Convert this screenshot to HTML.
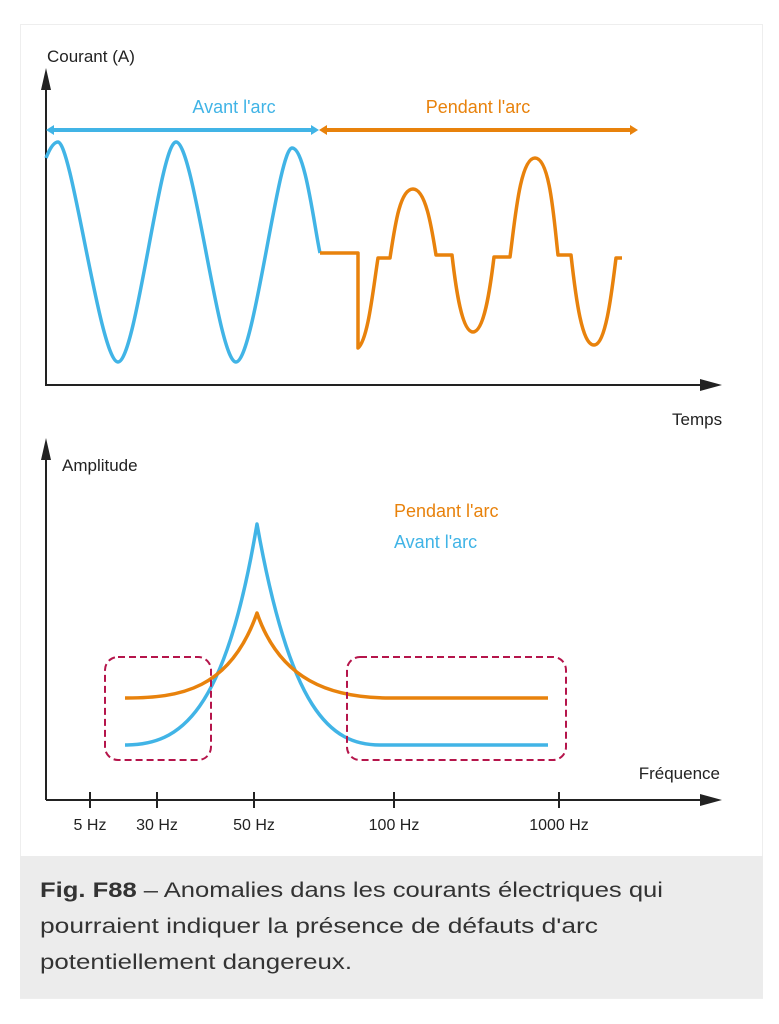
<!DOCTYPE html>
<html><head><meta charset="utf-8"><style>
body{margin:0;background:#fff;}
svg{display:block;font-family:"Liberation Sans",Arial,sans-serif;}
</style></head><body>
<svg width="779" height="1024" viewBox="0 0 779 1024">
<rect x="20.5" y="24.5" width="742" height="974" fill="#fff" stroke="#eee"/>
<rect x="20" y="856" width="743" height="142" fill="#ececec"/>
<text x="40" y="897" font-size="21" fill="#333" textLength="623" lengthAdjust="spacingAndGlyphs"><tspan font-weight="bold">Fig. F88</tspan> – Anomalies dans les courants électriques qui</text>
<text x="40" y="933" font-size="21" fill="#333" textLength="558" lengthAdjust="spacingAndGlyphs">pourraient indiquer la présence de défauts d'arc</text>
<text x="40" y="969" font-size="21" fill="#333" textLength="312" lengthAdjust="spacingAndGlyphs">potentiellement dangereux.</text>

<g stroke="#222" stroke-width="2" fill="none">
<path d="M46 386V80M46 385H710M46 800V450M46 800H710"/>
<path d="M90 792V808M157 792V808M254 792V808M394 792V808M559 792V808"/>
</g>
<g fill="#222">
<path d="M46 68L41 90H51Z"/><path d="M722 385L700 379V391Z"/>
<path d="M46 438L41 460H51Z"/><path d="M722 800L700 794V806Z"/>
</g>
<text x="47" y="62" font-size="17" fill="#222">Courant (A)</text>
<text x="672" y="425" font-size="17" fill="#222">Temps</text>
<text x="62" y="471" font-size="17" fill="#222">Amplitude</text>
<text x="720" y="779" font-size="17" fill="#222" text-anchor="end">Fréquence</text>
<g font-size="16" fill="#222" text-anchor="middle">
<text x="90" y="830">5 Hz</text><text x="157" y="830">30 Hz</text><text x="254" y="830">50 Hz</text><text x="394" y="830">100 Hz</text><text x="559" y="830">1000 Hz</text>
</g>
<text x="234" y="113" font-size="18" fill="#41b4e6" text-anchor="middle">Avant l'arc</text>
<text x="478" y="113" font-size="18" fill="#e8820c" text-anchor="middle">Pendant l'arc</text>
<text x="394" y="517" font-size="18" fill="#e8820c">Pendant l'arc</text>
<text x="394" y="548" font-size="18" fill="#41b4e6">Avant l'arc</text>

<g stroke-width="4" fill="none">
<path d="M50 130H315" stroke="#41b4e6"/>
<path d="M46 130L54 125V135Z M319 130L311 125V135Z" fill="#41b4e6" stroke="none"/>
<path d="M323 130H634" stroke="#e8820c"/>
<path d="M319 130L327 125V135Z M638 130L630 125V135Z" fill="#e8820c" stroke="none"/>
</g>

<g fill="none" stroke-width="3.5" stroke-linejoin="round">
<path stroke="#41b4e6" d="M46 158C50 148 54 142 58 142C72 142 100 362 118 362C136 362 160 142 176 142C194 142 218 362 236 362C254 362 278 148 292 148C305 148 314 225 320 253"/>
<path stroke="#e8820c" d="M320 253H358V348C368 340 373 290 378 258H390C395 225 400 189 413 189C426 189 432 230 436 255H452C456 290 462 332 473 332C484 332 490 290 494 257H510C515 220 520 158 535 158C550 158 554 220 558 255H571C576 300 582 345 594 345C606 345 612 290 616 258H622"/>
<path stroke="#41b4e6" d="M125 745C180 745 225 715 257 524C290 710 330 745 380 745H548"/>
<path stroke="#e8820c" d="M125 698C180 698 230 690 257 613C280 680 330 698 390 698H548"/>
</g>
<g fill="none" stroke="#b5154b" stroke-width="2" stroke-dasharray="7,4">
<rect x="105" y="657" width="106" height="103" rx="13"/>
<rect x="347" y="657" width="219" height="103" rx="13"/>
</g>
</svg>
</body></html>
